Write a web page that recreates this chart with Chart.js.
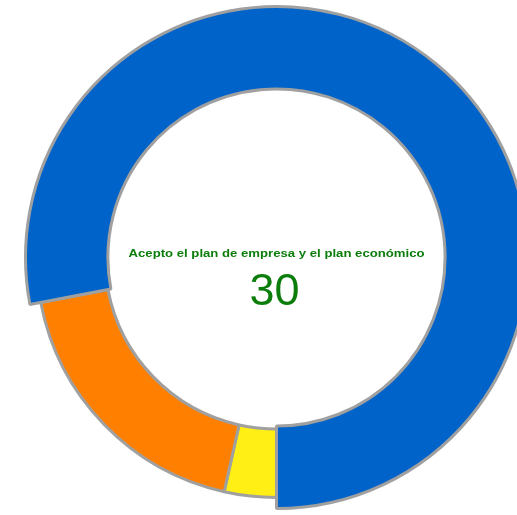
<!DOCTYPE html>
<html>
<head>
<meta charset="utf-8">
<script src="https://cdn.jsdelivr.net/npm/chart.js@4/dist/chart.umd.min.js"></script>
<style>
  html, body { margin: 0; padding: 0; background: #fff; }
  #wrap { width: 517px; height: 515px; }
</style>
</head>
<body>
<div id="wrap"><canvas id="donut"></canvas></div>
<script>
// Datos del gráfico
const labels = ["No acepto", "Acepto con cambios", "Acepto el plan de empresa y el plan económico"];
const values = [3.5, 18.5, 78];
const colors = ["#ffef14", "#ff8000", "#0063c9"];
const centerTitle = "Acepto el plan de empresa y el plan económico";
const centerValue = "30";

// el segmento azul va "resaltado" (un poco más grande)
const highlightIndex = 2;

const highlightPlugin = {
  id: "highlight",
  afterDatasetsUpdate(chart) {
    const arc = chart.getDatasetMeta(0).data[highlightIndex];
    if (arc) {
      arc.outerRadius += 11;
      arc.innerRadius -= 3;
    }
  },
};

const centerText = {
  id: "centerText",
  afterDraw(chart) {
    const ctx = chart.ctx;
    const arc = chart.getDatasetMeta(0).data[0];
    const x = arc.x, y = arc.y;
    ctx.save();
    ctx.fillStyle = "#0b7d0b";
    ctx.textAlign = "center";
    ctx.textBaseline = "alphabetic";
    // el título va algo estirado a lo ancho, como en la original
    ctx.font = "bold 10px 'Liberation Sans', Arial, sans-serif";
    const w = ctx.measureText(centerTitle).width;
    const sx = 296 / w;
    ctx.save();
    ctx.translate(x, y - 1);
    ctx.scale(sx, 1);
    ctx.fillText(centerTitle, 0, 0);
    ctx.restore();
    ctx.font = "45px 'Liberation Sans', Arial, sans-serif";
    ctx.fillText(centerValue, x - 2, y + 47);
    ctx.restore();
  },
};

new Chart(document.getElementById("donut").getContext("2d"), {
  type: "doughnut",
  data: {
    labels: labels,
    datasets: [
      {
        data: values,
        backgroundColor: colors,
        borderColor: "#a0a0a0",
        borderWidth: 3,
        hoverOffset: 0,
      },
    ],
  },
  options: {
    responsive: true,
    maintainAspectRatio: false,
    animation: false,
    rotation: 180,
    cutout: "71.5%",
    radius: 240,
    layout: { padding: { left: 36, right: 0, top: 0, bottom: 0 } },
    plugins: {
      legend: { display: false },
      tooltip: { enabled: false },
    },
    events: [],
  },
  plugins: [highlightPlugin, centerText],
});
</script>
</body>
</html>
